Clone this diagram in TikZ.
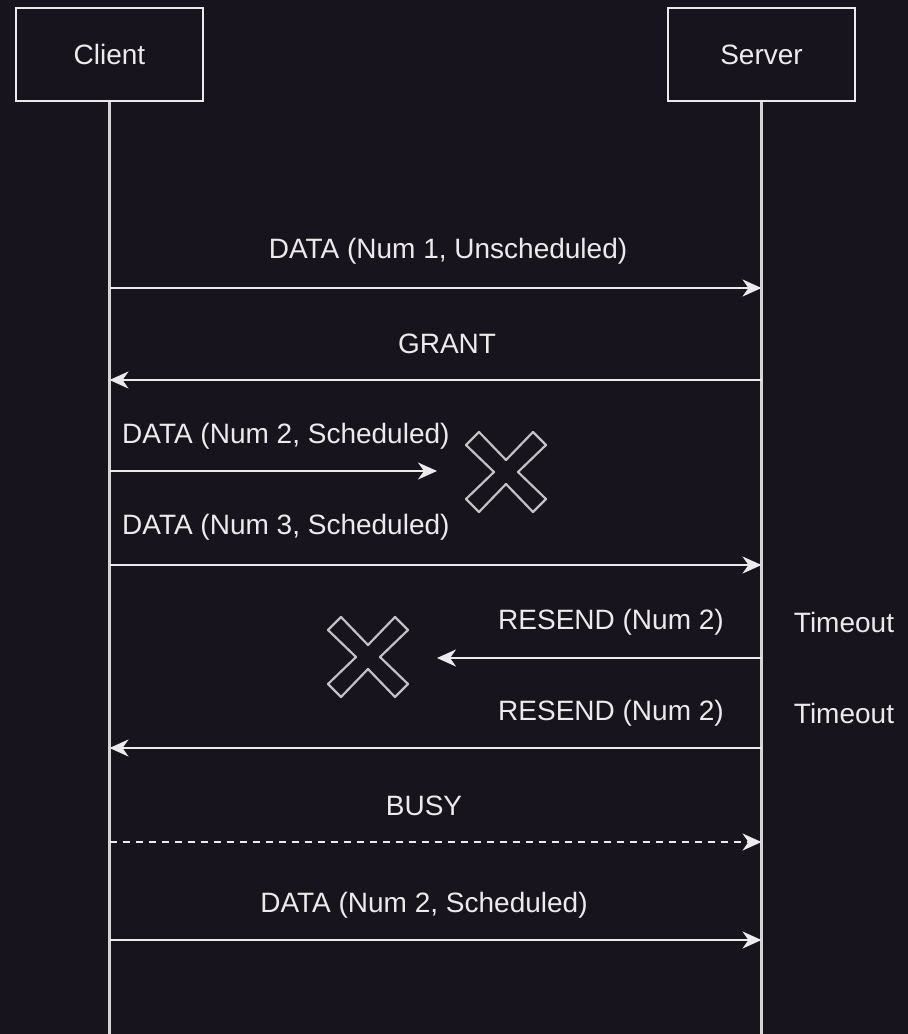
\documentclass[tikz,border=0pt]{standalone}
\usepackage{fontspec}
\setmainfont{Liberation Sans}
\usetikzlibrary{arrows.meta}
\definecolor{bg}{RGB}{24,20,29}
\definecolor{fg}{RGB}{235,235,235}
\tikzset{>={Stealth[length=19pt,width=17pt,inset=6pt]}}
\tikzset{
  actor/.style={draw=fg,line width=2.2pt,minimum width=187pt,minimum height=93pt,
    text=fg,font=\fontsize{28}{32}\selectfont},
  life/.style={fg!90!bg,line width=2.2pt},
  msg/.style={->,fg,line width=2.2pt},
  txt/.style={text=fg,inner sep=0pt,font=\fontsize{28}{32}\selectfont},
  lost/.style={draw=fg!80!bg,line width=2.2pt,line join=round}
}
\newcommand{\lostmark}[1]{%
  \draw[lost,shift={(#1)}] (0,-12) -- (-27,-40) -- (-40,-27) -- (-12,0) -- (-40,27)
    -- (-27,40) -- (0,12) -- (27,40) -- (40,27) -- (12,0) -- (40,-27) -- (27,-40) -- cycle;}

\begin{document}
\begin{tikzpicture}[x=1pt,y=-1pt]
  \fill[bg] (0,0) rectangle (908,1034);
  \useasboundingbox (0,0) rectangle (908,1034);
  \node[actor] (client) at (109.5,54.5) {Client};
  \node[actor] (server) at (761.5,54.5) {Server};
  \coordinate (cend) at (109.5,1034);
  \coordinate (send) at (761.5,1034);
  \draw[life] (client) -- (cend);
  \draw[life] (server) -- (send);
  % messages
  \coordinate (c1) at (109.5,288);  \coordinate (s1) at (761.5,288);
  \coordinate (c2) at (109.5,380);  \coordinate (s2) at (761.5,380);
  \coordinate (c3) at (109.5,471);  \coordinate (x3) at (437,471);
  \coordinate (c4) at (109.5,565);  \coordinate (s4) at (761.5,565);
  \coordinate (x5) at (437,658);    \coordinate (s5) at (761.5,658);
  \coordinate (c6) at (109.5,748);  \coordinate (s6) at (761.5,748);
  \coordinate (c7) at (109.5,842);  \coordinate (s7) at (761.5,842);
  \coordinate (c8) at (109.5,940);  \coordinate (s8) at (761.5,940);
  \draw[msg] (c1) -- (s1);
  \draw[msg] (s2) -- (c2);
  \draw[msg] (c3) -- (x3);
  \draw[msg] (c4) -- (s4);
  \draw[msg] (s5) -- (x5);
  \draw[msg] (s6) -- (c6);
  \draw[msg,dashed,dash pattern=on 7pt off 6pt] (c7) -- (s7);
  \draw[msg] (c8) -- (s8);
  % labels
  \node[txt] (m1) at (448,251) {DATA (Num 1, Unscheduled)};
  \node[txt] (m2) at (447,344) {GRANT};
  \node[txt,anchor=west] (m3) at (122,436) {DATA (Num 2, Scheduled)};
  \node[txt,anchor=west] (m4) at (122,527) {DATA (Num 3, Scheduled)};
  \node[txt] (m5) at (611,622) {RESEND (Num 2)};
  \node[txt] (t5) at (844,622) {Timeout};
  \node[txt] (m6) at (611,713) {RESEND (Num 2)};
  \node[txt] (t6) at (844,713) {Timeout};
  \node[txt] (m7) at (424,806) {BUSY};
  \node[txt] (m8) at (424,905) {DATA (Num 2, Scheduled)};
  % lost packets
  \coordinate (lost1) at (506,472);
  \coordinate (lost2) at (368,657);
  \lostmark{lost1}
  \lostmark{lost2}
\end{tikzpicture}
\end{document}
